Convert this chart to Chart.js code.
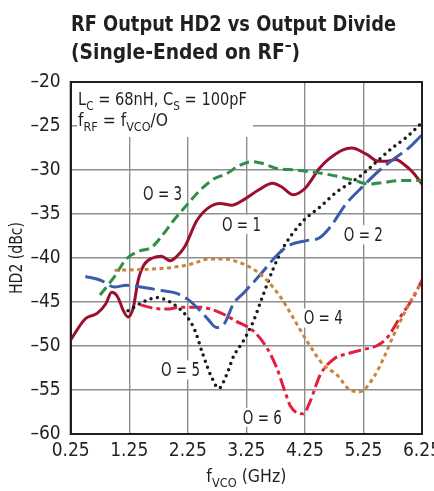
<!DOCTYPE html>
<html>
<head>
<meta charset="utf-8">
<script src="https://cdn.jsdelivr.net/npm/chart.js@4"></script>
<style>body{margin:0;background:#fff}</style>
</head>
<body>
<canvas id="chart" width="434" height="491"></canvas>
<script>
// tick values
const FREQ_TICKS = [0.25, 1.25, 2.25, 3.25, 4.25, 5.25, 6.25];

// O = 1
const o1Freq = [0.25, 0.5, 0.7, 0.85, 0.95, 1.05, 1.15, 1.23, 1.32, 1.4, 1.5, 1.65, 1.8, 1.95, 2.05, 2.2, 2.4, 2.6, 2.8, 3.0, 3.2, 3.45, 3.7, 3.85, 4.05, 4.25, 4.5, 4.65, 4.9, 5.05, 5.3, 5.5, 5.65, 5.8, 5.95, 6.1, 6.25];
const o1Hd2 = [-49.3, -46.9, -46.3, -45.2, -43.9, -44.4, -46.0, -46.7, -45.6, -42.6, -40.8, -40.0, -39.8, -40.3, -39.9, -38.7, -35.8, -34.3, -33.8, -34.0, -33.4, -32.3, -31.5, -31.9, -32.8, -32.1, -29.8, -28.8, -27.7, -27.5, -28.2, -29.0, -29.0, -28.8, -29.4, -30.3, -31.6];
// O = 2
const o2Freq = [0.5, 0.75, 1.0, 1.2, 1.45, 1.8, 2.05, 2.25, 2.45, 2.6, 2.74, 2.88, 3.03, 3.2, 3.5, 3.8, 4.0, 4.3, 4.5, 4.68, 4.96, 5.25, 5.53, 5.82, 6.04, 6.25];
const o2Hd2 = [-42.1, -42.5, -43.3, -43.1, -43.3, -43.7, -44.0, -44.7, -45.9, -47.0, -47.9, -47.4, -45.2, -44.0, -41.8, -39.5, -38.5, -38.0, -37.7, -36.5, -33.8, -31.8, -30.0, -28.5, -27.4, -26.0];
// O = 3
const o3Freq = [0.75, 1.0, 1.2, 1.43, 1.63, 1.83, 2.0, 2.23, 2.46, 2.7, 2.92, 3.1, 3.35, 3.55, 3.75, 4.1, 4.45, 4.8, 5.1, 5.35, 5.6, 5.9, 6.25];
const o3Hd2 = [-44.2, -42.1, -40.1, -39.2, -38.8, -37.3, -35.8, -34.0, -32.3, -31.0, -30.4, -29.6, -29.05, -29.3, -29.8, -30.0, -30.3, -30.7, -31.2, -31.6, -31.4, -31.2, -31.2];
// O = 4
const o4Freq = [1.0, 1.5, 1.95, 2.3, 2.63, 2.85, 3.03, 3.3, 3.55, 3.85, 4.05, 4.3, 4.56, 4.8, 5.02, 5.19, 5.42, 5.6, 5.77, 6.0, 6.25];
const o4Hd2 = [-41.4, -41.3, -41.1, -40.7, -40.1, -40.1, -40.3, -41.0, -42.2, -44.6, -46.8, -49.6, -52.1, -53.3, -55.0, -55.2, -53.6, -51.3, -48.7, -45.6, -42.6];
// O = 5
const o5Freq = [1.23, 1.38, 1.55, 1.72, 1.89, 2.06, 2.23, 2.37, 2.51, 2.66, 2.78, 2.91, 3.03, 3.2, 3.37, 3.52, 3.71, 3.9, 4.22, 4.51, 4.79, 5.02, 5.25, 5.5, 5.76, 6.0, 6.25];
const o5Hd2 = [-46.0, -45.4, -44.8, -44.5, -44.8, -45.5, -46.6, -48.2, -51.0, -53.6, -54.8, -53.3, -51.2, -49.4, -47.2, -44.5, -41.2, -38.6, -35.8, -34.2, -32.5, -31.5, -30.4, -28.9, -27.4, -26.2, -24.6];
// O = 6
const o6Freq = [1.43, 1.66, 1.89, 2.12, 2.46, 2.8, 3.08, 3.37, 3.6, 3.77, 3.91, 4.0, 4.12, 4.22, 4.34, 4.51, 4.74, 5.02, 5.25, 5.47, 5.65, 5.87, 6.1, 6.25];
const o6Hd2 = [-45.3, -45.7, -45.8, -45.6, -45.6, -46.2, -47.2, -48.3, -50.2, -52.5, -55.2, -56.8, -57.6, -57.7, -56.3, -53.3, -51.5, -50.8, -50.4, -50.0, -49.1, -46.8, -44.5, -42.5];

// curve labels, placed in data units (left edge, baseline)
const curveLabels = ['O = 1', 'O = 2', 'O = 3', 'O = 4', 'O = 5', 'O = 6'];
const labelFreq = [2.834, 4.914, 1.485, 4.23, 1.792, 3.19];
const labelHd2 = [-36.9, -38.1, -33.4, -47.55, -53.45, -58.85];

const FONT = "'Liberation Sans Narrow', 'DejaVu Sans Condensed', 'Liberation Sans', sans-serif";
const INK = '#231f20';

// text with sub/superscripts, squeezed to a given width when asked
function drawRich(ctx, parts, x, y, size, opts = {}) {
  const weight = opts.weight || 'normal';
  const fontFor = k => `${weight} ${k ? Math.round(size * 0.72) : size}px ${FONT}`;
  let w = 0;
  parts.forEach(([t, k]) => { ctx.font = fontFor(k); w += ctx.measureText(t).width; });
  const sx = opts.width ? opts.width / w : 1;
  const left = opts.align === 'center' ? x - w * sx / 2 : x;
  ctx.save();
  ctx.translate(left, y);
  ctx.scale(sx, 1);
  ctx.fillStyle = INK;
  ctx.textAlign = 'left';
  ctx.textBaseline = 'alphabetic';
  let cx = 0;
  parts.forEach(([t, k]) => {
    ctx.font = fontFor(k);
    const dy = k === 'sub' ? size * 0.3 : k === 'sup' ? -size * 0.42 : 0;
    ctx.fillText(t, cx, dy);
    cx += ctx.measureText(t).width;
  });
  ctx.restore();
  return w * sx;
}

const decorations = {
  id: 'decorations',
  beforeDatasetsDraw(chart) {
    const { ctx, chartArea: a, scales: { x, y } } = chart;
    ctx.save();
    // condition box
    ctx.fillStyle = '#fff';
    ctx.fillRect(77, a.top + 1, 176, 54);
    drawRich(ctx, [['L', ''], ['C', 'sub'], [' = 68nH, C', ''], ['S', 'sub'], [' = 100pF', '']], 78, 105, 18, { width: 169 });
    drawRich(ctx, [['f', ''], ['RF', 'sub'], [' = f', ''], ['VCO', 'sub'], ['/O', '']], 78, 126, 18, { width: 90 });
    // curve labels with white backing
    curveLabels.forEach((t, i) => {
      const lx = x.getPixelForValue(labelFreq[i]);
      const ly = y.getPixelForValue(labelHd2[i]);
      ctx.fillStyle = '#fff';
      ctx.fillRect(lx - 2, ly - 16, 43, 19);
      drawRich(ctx, [[t, '']], lx, ly, 19, { width: 39 });
    });
    ctx.restore();
  },
  afterDatasetsDraw(chart) {
    const { ctx, chartArea: a } = chart;
    ctx.save();
    ctx.strokeStyle = INK;
    ctx.lineWidth = 2;
    ctx.strokeRect(a.left, a.top, a.right - a.left, a.bottom - a.top);
    ctx.restore();
  },
  afterDraw(chart) {
    const { ctx, chartArea: a } = chart;
    drawRich(ctx, [['RF Output HD2 vs Output Divide', '']], 71, 31, 22, { weight: 'bold', width: 325 });
    drawRich(ctx, [['(Single-Ended on RF', ''], ['\u2013', 'sup'], [')', '']], 71, 59, 22, { weight: 'bold', width: 229 });
    drawRich(ctx, [['f', ''], ['VCO', 'sub'], [' (GHz)', '']], (a.left + a.right) / 2, 482, 18, { width: 80, align: 'center' });
    ctx.save();
    ctx.translate(22, (a.top + a.bottom) / 2);
    ctx.rotate(-Math.PI / 2);
    drawRich(ctx, [['HD2 (dBc)', '']], 0, 0, 18, { width: 72, align: 'center' });
    ctx.restore();
  }
};

const series = (label, freq, hd2, color, dash, cap = 'butt', width = 3) => ({
  label,
  data: freq.map((f, i) => ({ x: f, y: hd2[i] })),
  borderColor: color,
  borderWidth: width,
  borderDash: dash,
  borderCapStyle: cap,
  pointRadius: 0,
  cubicInterpolationMode: 'monotone',
  fill: false
});

new Chart(document.getElementById('chart'), {
  type: 'line',
  data: {
    datasets: [
      series('O = 4', o4Freq, o4Hd2, '#c9843c', [4, 3.5]),
      series('O = 3', o3Freq, o3Hd2, '#2f8f47', [10, 5]),
      series('O = 2', o2Freq, o2Hd2, '#3b5ca8', [20, 6]),
      series('O = 6', o6Freq, o6Hd2, '#e21f3d', [13, 4, 4, 4]),
      series('O = 5', o5Freq, o5Hd2, '#1a1a1a', [0, 6.5], 'round', 3.5),
      series('O = 1', o1Freq, o1Hd2, '#9c0f2f', [])
    ]
  },
  options: {
    responsive: false,
    animation: false,
    layout: { padding: { top: 82, right: 12, left: 0, bottom: 0 } },
    plugins: { legend: { display: false }, tooltip: { enabled: false } },
    scales: {
      x: {
        type: 'linear',
        min: 0.25,
        max: 6.25,
        afterBuildTicks: axis => { axis.ticks = FREQ_TICKS.map(v => ({ value: v })); },
        afterFit: axis => { axis.height = 57; axis.paddingLeft = 0; axis.paddingRight = 0; },
        grid: { color: '#8e8e8e', lineWidth: 1.4, drawTicks: false },
        border: { color: INK, width: 2 },
        ticks: {
          color: INK,
          padding: 6,
          maxRotation: 0,
          font: { family: FONT, size: 19 },
          callback: v => v.toFixed(2)
        }
      },
      y: {
        min: -60,
        max: -20,
        afterFit: axis => { axis.width = 70.7; },
        grid: { color: '#8e8e8e', lineWidth: 1.4, drawTicks: false },
        border: { color: INK, width: 2 },
        ticks: {
          stepSize: 5,
          color: INK,
          padding: 10,
          font: { family: FONT, size: 19 },
          callback: v => (v < 0 ? '\u2013' + (-v) : String(v))
        }
      }
    }
  },
  plugins: [decorations]
});
</script>
</body>
</html>
